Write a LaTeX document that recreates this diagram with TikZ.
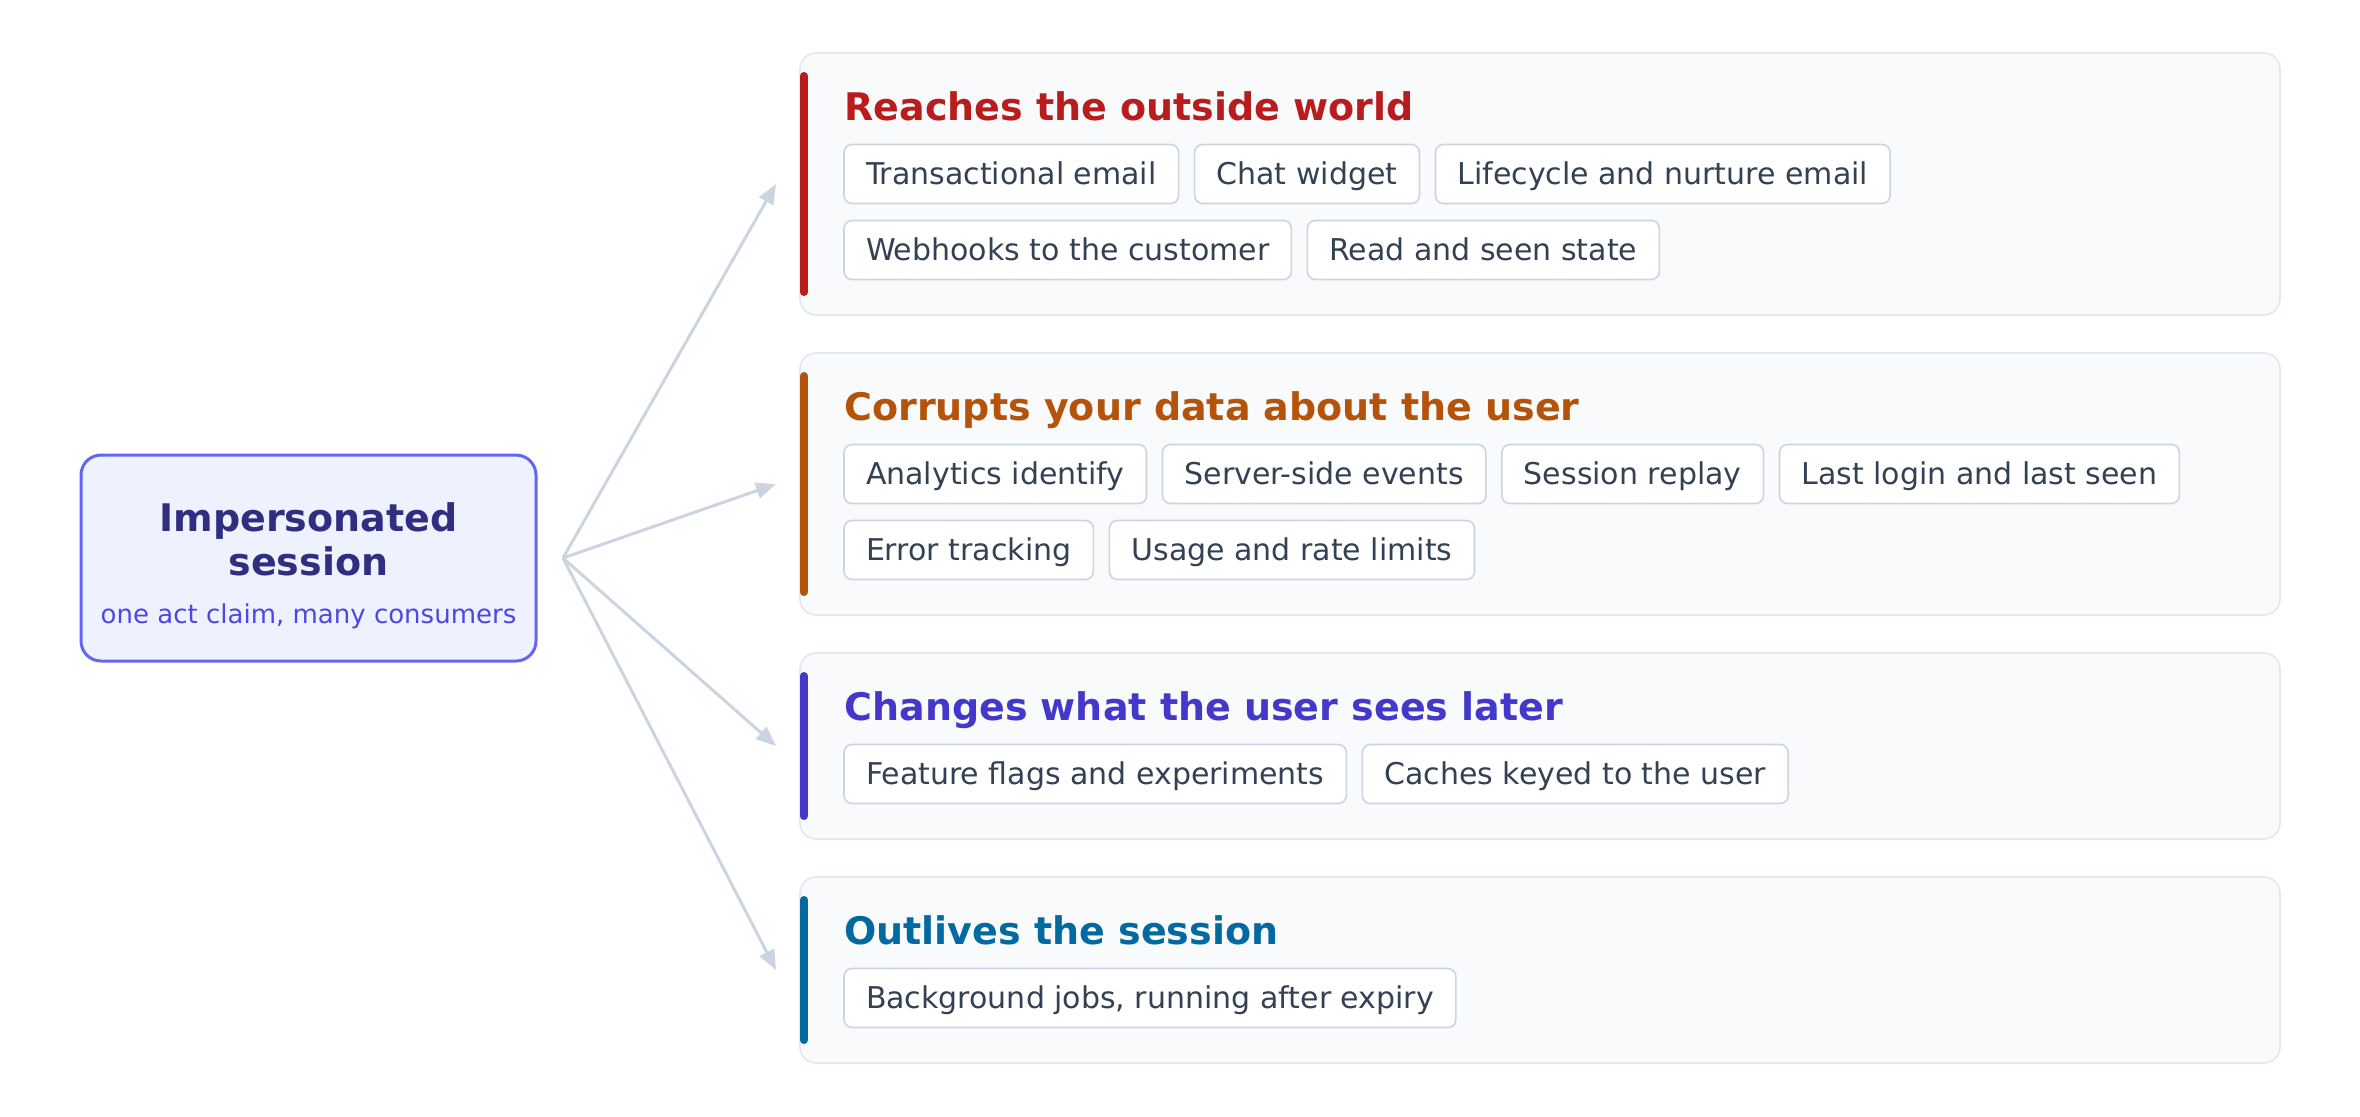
\documentclass[tikz,border=0pt]{standalone}
\usepackage{fontspec}
\setmainfont{DejaVu Sans}
\usetikzlibrary{arrows.meta,positioning}
\definecolor{cred}{HTML}{B91C1C}
\definecolor{camber}{HTML}{B45309}
\definecolor{cindigo}{HTML}{4338CA}
\definecolor{csky}{HTML}{0369A1}
\definecolor{mfill}{HTML}{EEF2FF}
\definecolor{mborder}{HTML}{6366F1}
\definecolor{mtitle}{HTML}{312E81}
\definecolor{msub}{HTML}{4F46E5}
\definecolor{pfill}{HTML}{F8FAFC}
\definecolor{pborder}{HTML}{E2E8F0}
\definecolor{chipb}{HTML}{CBD5E1}
\definecolor{chiptext}{HTML}{334155}
\definecolor{conncol}{HTML}{CBD5E1}
\begin{document}
\begin{tikzpicture}[x=1pt,y=-1pt,
  mainbox/.style={draw=mborder, fill=mfill, line width=1.5pt, rounded corners=10pt,
    minimum width=227.5pt, minimum height=103pt, inner sep=0pt, outer sep=0pt},
  maintitle/.style={font=\fontsize{19}{22}\selectfont\bfseries, text=mtitle, align=center, inner sep=0pt},
  mainsub/.style={font=\fontsize{13}{15}\selectfont, text=msub, inner sep=0pt, anchor=base},
  panel/.style={draw=pborder, fill=pfill, line width=0.8pt, rounded corners=8pt,
    minimum width=740pt, anchor=north west, inner sep=0pt, outer sep=0pt},
  accent/.style={line width=4pt, line cap=round},
  ttl/.style={font=\fontsize{19}{22}\selectfont\bfseries, anchor=base west, inner sep=0pt},
  chip/.style={draw=chipb, fill=white, rounded corners=4pt, line width=0.8pt,
    inner xsep=11pt, inner ysep=0pt, minimum height=29.5pt, text height=10.9pt,
    text depth=0pt, anchor=west, outer sep=0pt, font=\fontsize{15}{18}\selectfont, text=chiptext},
  conn/.style={draw=conncol, line width=1.5pt, -{Triangle[length=10pt,width=8pt]}},
  node distance=8pt
]
\useasboundingbox (0,0) rectangle (1180,558);

% main box
\node[mainbox] (M) at (154.25,279) {};
\node[maintitle] (mt) at (154.25,269.7) {Impersonated\\session};
\node[mainsub] (ms) at (154.25,311.5) {one act claim, many consumers};
\coordinate (hub) at (281.5,279);

% panels
\node[panel, minimum height=131pt] (P1) at (400,26.5) {};
\node[panel, minimum height=131pt] (P2) at (400,176.5) {};
\node[panel, minimum height=93pt] (P3) at (400,326.5) {};
\node[panel, minimum height=93pt] (P4) at (400,438.5) {};

% accent bars
\draw[accent, cred] ([xshift=2pt,yshift=-11.5pt]P1.north west) -- ([xshift=2pt,yshift=11.5pt]P1.south west);
\draw[accent, camber] ([xshift=2pt,yshift=-11.5pt]P2.north west) -- ([xshift=2pt,yshift=11.5pt]P2.south west);
\draw[accent, cindigo] ([xshift=2pt,yshift=-11.5pt]P3.north west) -- ([xshift=2pt,yshift=11.5pt]P3.south west);
\draw[accent, csky] ([xshift=2pt,yshift=-11.5pt]P4.north west) -- ([xshift=2pt,yshift=11.5pt]P4.south west);

% titles
\node[ttl, text=cred] (t1) at ([xshift=22pt,yshift=-33.5pt]P1.north west) {Reaches the outside world};
\node[ttl, text=camber] (t2) at ([xshift=22pt,yshift=-33.5pt]P2.north west) {Corrupts your data about the user};
\node[ttl, text=cindigo] (t3) at ([xshift=22pt,yshift=-33.5pt]P3.north west) {Changes what the user sees later};
\node[ttl, text=csky] (t4) at ([xshift=22pt,yshift=-33.5pt]P4.north west) {Outlives the session};

% panel 1 chips
\node[chip] (a1) at ([xshift=22pt,yshift=-60.5pt]P1.north west) {Transactional email};
\node[chip, right=of a1] (a2) {Chat widget};
\node[chip, right=of a2] (a3) {Lifecycle and nurture email};
\node[chip] (a4) at ([xshift=22pt,yshift=-98.5pt]P1.north west) {Webhooks to the customer};
\node[chip, right=of a4] (a5) {Read and seen state};

% panel 2 chips
\node[chip] (b1) at ([xshift=22pt,yshift=-60.5pt]P2.north west) {Analytics identify};
\node[chip, right=of b1] (b2) {Server-side events};
\node[chip, right=of b2] (b3) {Session replay};
\node[chip, right=of b3] (b4) {Last login and last seen};
\node[chip] (b5) at ([xshift=22pt,yshift=-98.5pt]P2.north west) {Error tracking};
\node[chip, right=of b5] (b6) {Usage and rate limits};

% panel 3 chips
\node[chip] (c1) at ([xshift=22pt,yshift=-60.5pt]P3.north west) {Feature flags and experiments};
\node[chip, right=of c1] (c2) {Caches keyed to the user};

% panel 4 chips
\node[chip] (d1) at ([xshift=22pt,yshift=-60.5pt]P4.north west) {Background jobs, running after expiry};

% connectors
\draw[conn] (hub) -- ([xshift=-12pt]P1.west);
\draw[conn] (hub) -- ([xshift=-12pt]P2.west);
\draw[conn] (hub) -- ([xshift=-12pt]P3.west);
\draw[conn] (hub) -- ([xshift=-12pt]P4.west);
\end{tikzpicture}
\end{document}
